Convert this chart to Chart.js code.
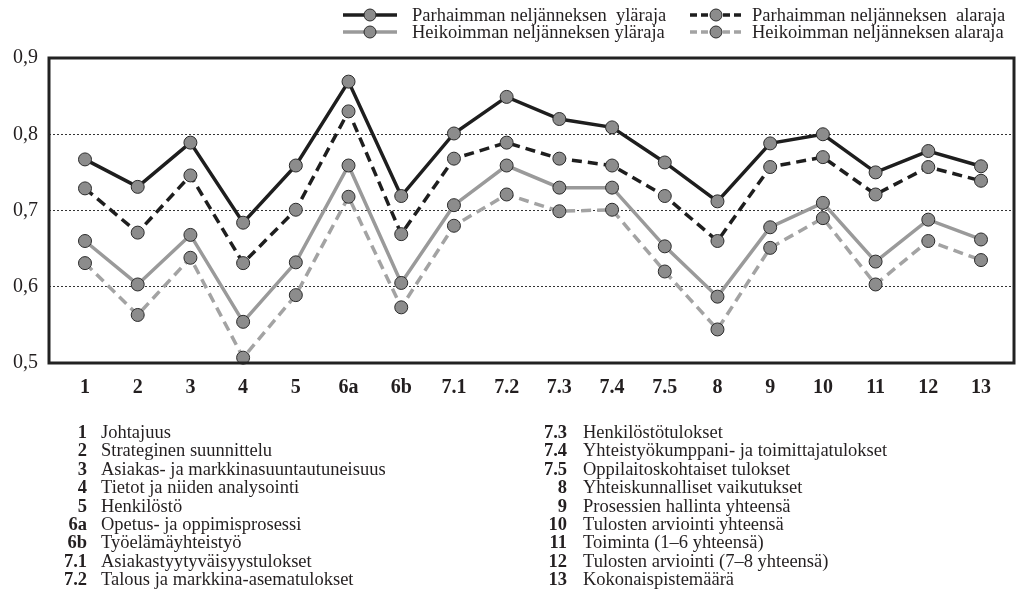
<!DOCTYPE html>
<html>
<head>
<meta charset="utf-8">
<script src="https://cdn.jsdelivr.net/npm/chart.js@4"></script>
<style>
  html, body { margin: 0; padding: 0; background: #fff; }
  #wrap { width: 1026px; height: 589px; position: relative; }
</style>
</head>
<body>
<div id="wrap"><canvas id="chart" width="1026" height="589"></canvas></div>
<script>
var categories = ['1', '2', '3', '4', '5', '6a', '6b', '7.1', '7.2', '7.3', '7.4', '7.5', '8', '9', '10', '11', '12', '13'];
var parasYla = [0.767, 0.731, 0.789, 0.684, 0.759, 0.869, 0.719, 0.801, 0.849, 0.820, 0.809, 0.763, 0.712, 0.788, 0.800, 0.750, 0.778, 0.758];
var parasAla = [0.729, 0.671, 0.746, 0.631, 0.701, 0.830, 0.669, 0.768, 0.789, 0.768, 0.759, 0.719, 0.660, 0.757, 0.770, 0.721, 0.757, 0.739];
var heikoinYla = [0.660, 0.603, 0.668, 0.554, 0.632, 0.759, 0.605, 0.707, 0.759, 0.730, 0.730, 0.653, 0.587, 0.678, 0.710, 0.633, 0.688, 0.662];
var heikoinAla = [0.631, 0.563, 0.638, 0.507, 0.589, 0.718, 0.573, 0.680, 0.721, 0.699, 0.701, 0.620, 0.544, 0.651, 0.690, 0.603, 0.660, 0.635];
var yTicks = [0.5, 0.6, 0.7, 0.8, 0.9];
var seriesNames = ['Parhaimman neljänneksen  yläraja', 'Parhaimman neljänneksen  alaraja', 'Heikoimman neljänneksen yläraja', 'Heikoimman neljänneksen alaraja'];
var listCodes = ['1', '2', '3', '4', '5', '6a', '6b', '7.1', '7.2', '7.3', '7.4', '7.5', '8', '9', '10', '11', '12', '13'];
var listNames = ['Johtajuus', 'Strateginen suunnittelu', 'Asiakas- ja markkinasuuntautuneisuus', 'Tietot ja niiden analysointi',
  'Henkilöstö', 'Opetus- ja oppimisprosessi', 'Työelämäyhteistyö', 'Asiakastyytyväisyystulokset', 'Talous ja markkina-asematulokset',
  'Henkilöstötulokset', 'Yhteistyökumppani- ja toimittajatulokset', 'Oppilaitoskohtaiset tulokset', 'Yhteiskunnalliset vaikutukset',
  'Prosessien hallinta yhteensä', 'Tulosten arviointi yhteensä', 'Toiminta (1–6 yhteensä)', 'Tulosten arviointi (7–8 yhteensä)', 'Kokonaispistemäärä'];

var SERIF = '"Liberation Serif", "Times New Roman", serif';
var TXT = '#231f20';

function pts(arr) {
  return arr.map(function (v, i) { return { x: i, y: v }; });
}

function ds(label, values, color, dash) {
  return {
    label: label,
    data: pts(values),
    borderColor: color,
    borderWidth: 3.5,
    borderDash: dash,
    tension: 0,
    pointRadius: 6.5,
    pointHoverRadius: 6.5,
    pointBackgroundColor: '#8c8c8c',
    pointBorderColor: '#2b2b2b',
    pointBorderWidth: 1,
    clip: false
  };
}

var frame = {
  id: 'frame',
  afterDatasetsDraw: function (chart) {
    var a = chart.chartArea, ctx = chart.ctx;
    ctx.save();
    ctx.strokeStyle = '#222';
    ctx.lineWidth = 3;
    ctx.strokeRect(a.left, a.top, a.right - a.left, a.bottom - a.top);
    ctx.restore();
  }
};

var extras = {
  id: 'extras',
  afterDraw: function (chart) {
    var ctx = chart.ctx;
    ctx.save();
    // legend
    var cols = [{ x0: 343, x1: 397, tx: 412 }, { x0: 690, x1: 742, tx: 752 }];
    var rows = [15, 32];
    var order = [[0, 0, 0], [1, 1, 0], [2, 0, 1], [3, 1, 1]];
    order.forEach(function (o) {
      var d = chart.data.datasets[o[0]];
      var c = cols[o[1]], y = rows[o[2]];
      ctx.strokeStyle = d.borderColor;
      ctx.lineWidth = 3.5;
      ctx.setLineDash(d.borderDash.length ? [7, 4] : []);
      ctx.beginPath();
      ctx.moveTo(c.x0, y);
      ctx.lineTo(c.x1, y);
      ctx.stroke();
      ctx.setLineDash([]);
      ctx.beginPath();
      ctx.arc((c.x0 + c.x1) / 2, y, 6, 0, Math.PI * 2);
      ctx.fillStyle = '#8c8c8c';
      ctx.fill();
      ctx.lineWidth = 1;
      ctx.strokeStyle = '#2b2b2b';
      ctx.stroke();
      ctx.fillStyle = TXT;
      ctx.font = '18.5px ' + SERIF;
      ctx.textAlign = 'left';
      ctx.textBaseline = 'middle';
      ctx.fillText(seriesNames[o[0]], c.tx, y + 1);
    });
    // category explanations
    ctx.textBaseline = 'alphabetic';
    listCodes.forEach(function (code, i) {
      var col = i < 9 ? 0 : 1;
      var row = i % 9;
      var y = 438 + row * 18.4;
      var nx = col === 0 ? 87 : 567;
      var tx = col === 0 ? 101 : 583;
      ctx.fillStyle = TXT;
      ctx.font = 'bold 18.5px ' + SERIF;
      ctx.textAlign = 'right';
      ctx.fillText(code, nx, y);
      ctx.font = '18.5px ' + SERIF;
      ctx.textAlign = 'left';
      ctx.fillText(listNames[i], tx, y);
    });
    ctx.restore();
  }
};

new Chart(document.getElementById('chart'), {
  type: 'line',
  data: {
    datasets: [
      ds(seriesNames[0], parasYla, '#1e1e1e', []),
      ds(seriesNames[1], parasAla, '#1e1e1e', [10, 6]),
      ds(seriesNames[2], heikoinYla, '#9a9a9a', []),
      ds(seriesNames[3], heikoinAla, '#a3a3a3', [10, 6])
    ]
  },
  options: {
    responsive: false,
    animation: false,
    events: [],
    layout: { padding: { left: 0, right: 12, top: 58, bottom: 186 } },
    plugins: { legend: { display: false }, tooltip: { enabled: false } },
    scales: {
      x: {
        type: 'linear',
        min: -0.683,
        max: 17.626,
        afterBuildTicks: function (scale) {
          scale.ticks = categories.map(function (c, i) { return { value: i }; });
        },
        afterFit: function (scale) { scale.height = 40; },
        grid: { display: false, drawTicks: false },
        border: { display: false },
        ticks: {
          autoSkip: false,
          maxRotation: 0,
          padding: 13,
          color: TXT,
          font: { family: SERIF, size: 20, weight: 'bold' },
          callback: function (v) { return categories[v]; }
        }
      },
      y: {
        min: 0.5,
        max: 0.9,
        afterBuildTicks: function (scale) {
          scale.ticks = yTicks.map(function (v) { return { value: v }; });
        },
        afterFit: function (scale) { scale.width = 49; },
        grid: { color: '#333', lineWidth: 1, drawTicks: false },
        border: { display: false, dash: [2, 2] },
        ticks: {
          padding: 11,
          color: TXT,
          font: { family: SERIF, size: 20 },
          callback: function (v) { return v.toFixed(1).replace('.', ','); }
        }
      }
    }
  },
  plugins: [frame, extras]
});
</script>
</body>
</html>
